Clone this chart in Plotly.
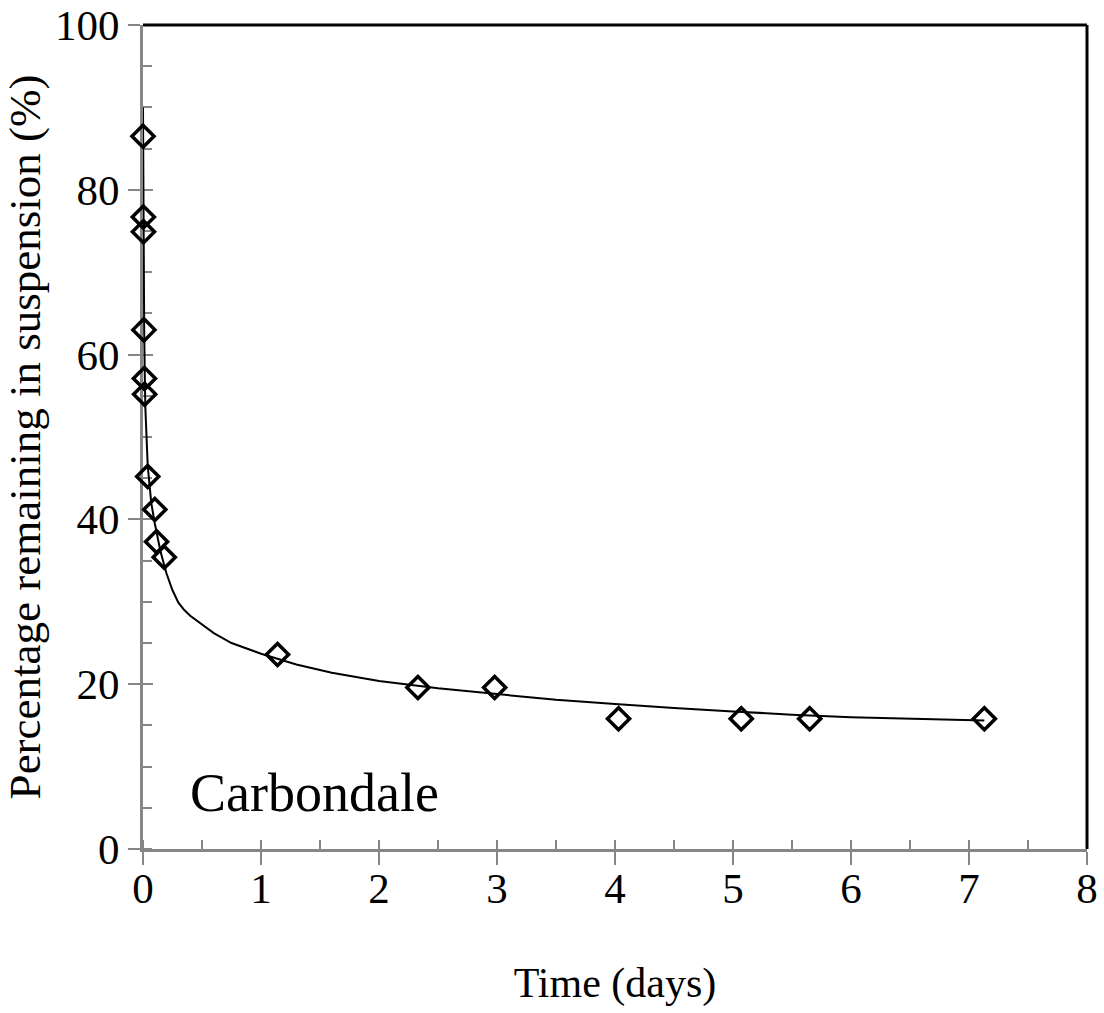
import plotly.graph_objects as go

# Measured settling data (days, % remaining)
time_days = [0.0, 0.003, 0.004, 0.008, 0.012, 0.014, 0.04, 0.10, 0.115, 0.18,
             1.14, 2.33, 2.98, 4.03, 5.07, 5.65, 7.13]
pct_remaining = [86.5, 76.7, 74.9, 63.0, 57.1, 55.2, 45.2, 41.2, 37.3, 35.4,
                 23.6, 19.6, 19.6, 15.8, 15.8, 15.8, 15.8]

# Fitted curve
fit_days = [0.0, 0.002, 0.005, 0.01, 0.015, 0.02, 0.04, 0.07, 0.10, 0.15, 0.20,
            0.25, 0.30, 0.35, 0.40, 0.50, 0.60, 0.75, 0.90, 1.0, 1.3, 1.6, 2.0,
            2.5, 3.0, 3.5, 4.0, 4.5, 5.0, 5.5, 6.0, 6.5, 7.13]
fit_pct = [90.0, 80.0, 72.0, 63.0, 57.5, 53.5, 46.5, 42.0, 39.5, 36.0, 33.4,
           31.4, 29.9, 29.0, 28.3, 27.2, 26.2, 25.0, 24.2, 23.7, 22.4, 21.4,
           20.4, 19.5, 18.8, 18.1, 17.6, 17.1, 16.7, 16.3, 16.0, 15.8, 15.6]

x_ticks = [0, 1, 2, 3, 4, 5, 6, 7, 8]
y_ticks = [0, 20, 40, 60, 80, 100]

FONT = "Liberation Serif"
GRAY = "#868686"

fig = go.Figure()
fig.add_trace(go.Scatter(x=fit_days, y=fit_pct, mode="lines",
                         line=dict(color="black", width=2), showlegend=False,
                         cliponaxis=False))
fig.add_trace(go.Scatter(x=time_days, y=pct_remaining, mode="markers",
                         marker=dict(symbol="diamond-open", size=17, color="black",
                                     line=dict(color="black", width=3.5)),
                         showlegend=False, cliponaxis=False))
# invisible trace to activate overlay axes (inside halves of crossing ticks)
fig.add_trace(go.Scatter(x=[0], y=[0], xaxis="x2", yaxis="y2", mode="markers",
                         marker=dict(opacity=0), showlegend=False, hoverinfo="skip"))

fig.update_layout(
    width=1104, height=1013,
    margin=dict(l=143, r=17, t=25, b=164, autoexpand=False),
    paper_bgcolor="white", plot_bgcolor="white",
    font=dict(family=FONT, color="black", size=43),
    xaxis=dict(range=[0, 8], tickvals=x_ticks, ticktext=[str(v) for v in x_ticks],
               ticks="outside", ticklen=13, tickwidth=2, tickcolor=GRAY,
               showline=True, linecolor=GRAY, linewidth=3, showgrid=False, zeroline=False,
               layer="below traces", automargin=False, ticklabelstandoff=-14,
               ticklabeloverflow="allow",
               minor=dict(ticks="inside", dtick=0.5, ticklen=9, tickwidth=2, tickcolor=GRAY,
                          showgrid=False),
               tickfont=dict(family=FONT, size=43),
               title=dict(text="Time (days)", font=dict(family=FONT, size=42), standoff=58)),
    yaxis=dict(range=[0, 100], tickvals=y_ticks, ticktext=[str(v) for v in y_ticks],
               ticks="outside", ticklen=12, tickwidth=2, tickcolor=GRAY,
               showline=True, linecolor=GRAY, linewidth=3, showgrid=False, zeroline=False,
               layer="below traces", automargin=False, ticklabeloverflow="allow",
               minor=dict(ticks="inside", dtick=5, ticklen=9, tickwidth=2, tickcolor=GRAY,
                          showgrid=False),
               tickfont=dict(family=FONT, size=43),
               title=dict(text="Percentage remaining in suspension (%)",
                          font=dict(family=FONT, size=45), standoff=13)),
    xaxis2=dict(overlaying="x", anchor="y", range=[0, 8], tickvals=x_ticks,
                ticks="inside", ticklen=9, tickwidth=2, tickcolor=GRAY,
                showticklabels=False, showline=False, showgrid=False, zeroline=False,
                layer="below traces", automargin=False),
    yaxis2=dict(overlaying="y", anchor="x", side="left", range=[0, 100], tickvals=y_ticks,
                ticks="inside", ticklen=10, tickwidth=2, tickcolor=GRAY,
                showticklabels=False, showline=False, showgrid=False, zeroline=False,
                layer="below traces", automargin=False),
    shapes=[
        dict(type="line", xref="paper", yref="paper", x0=0, x1=1, y0=1, y1=1,
             line=dict(color="black", width=3)),
        dict(type="line", xref="paper", yref="paper", x0=1, x1=1, y0=0, y1=1,
             line=dict(color="black", width=3)),
    ],
    annotations=[
        dict(text="Carbondale", x=0.38, y=6.8, xref="x", yref="y",
             xanchor="left", yanchor="middle", showarrow=False,
             font=dict(family=FONT, size=54, color="black")),
    ],
)

fig.write_html("out.html",
               config={"displayModeBar": False},
               post_script="document.body.style.margin='0';"
                           "document.body.style.overflow='hidden';")
